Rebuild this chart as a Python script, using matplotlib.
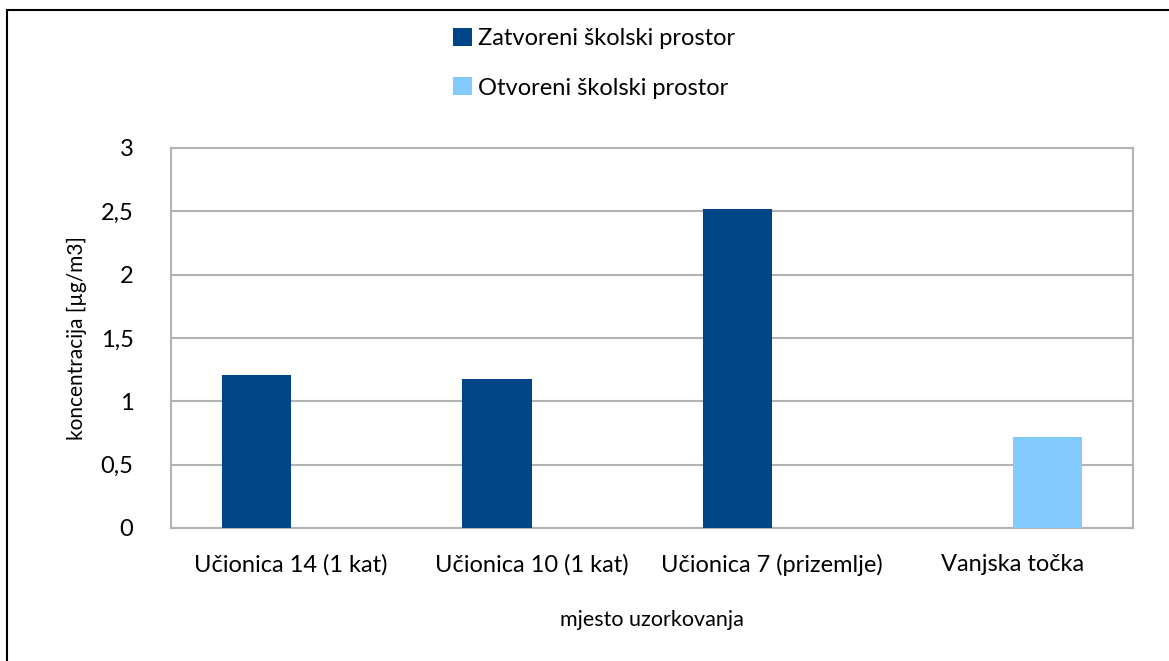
import numpy as np
import matplotlib.pyplot as plt
from matplotlib.patches import Rectangle

plt.rcParams['font.family'] = ['Lato', 'DejaVu Sans']

categories = ["Učionica 14 (1 kat)", "Učionica 10 (1 kat)",
              "Učionica 7 (prizemlje)", "Vanjska točka"]
zatvoreni = [1.21, 1.18, 2.52, np.nan]
otvoreni = [np.nan, np.nan, np.nan, 0.72]
series_names = ["Zatvoreni školski prostor", "Otvoreni školski prostor"]
yticks = [0, 0.5, 1, 1.5, 2, 2.5, 3]
ytick_labels = ["0", "0,5", "1", "1,5", "2", "2,5", "3"]

W, H = 1169, 661
fig = plt.figure(figsize=(W / 100, H / 100), dpi=100)
ax = fig.add_axes([171 / W, 1 - 528 / H, (1133 - 171) / W, (528 - 148) / H])

x = np.arange(len(categories))
width = 0.29
b1 = ax.bar(x - width / 2, zatvoreni, width, color="#004586", label=series_names[0], zorder=3)
b2 = ax.bar(x + width / 2, otvoreni, width, color="#83caff", label=series_names[1], zorder=3)

ax.set_xlim(-0.5, len(categories) - 0.5)
ax.set_ylim(0, 3)
ax.set_yticks(yticks)
ax.set_yticklabels(ytick_labels, fontsize=17)
ax.set_xticks(x)
ax.set_xticklabels(categories, fontsize=17)
ax.tick_params(length=0)
ax.tick_params(axis="x", pad=19)
ax.tick_params(axis="y", pad=27)
ax.yaxis.grid(True, color="#b3b3b3", linewidth=1.5, zorder=0)
for s in ax.spines.values():
    s.set_color("#b3b3b3")
    s.set_linewidth(1.5)

ax.set_ylabel("koncentracija [µg/m3]", fontsize=15, labelpad=10)
ax.set_xlabel("mjesto uzorkovanja", fontsize=15.5, labelpad=24)

fig.legend(handles=[b1, b2], loc="upper center", bbox_to_anchor=(0.508, 0.99),
           ncol=1, frameon=False, fontsize=17, labelspacing=1.2,
           handlelength=0.8, handleheight=0.8, handletextpad=0.25)

fig.patches.append(Rectangle((7 / W, -0.1), 1.2, 1 - 10 / H + 0.1,
                             transform=fig.transFigure, fill=False,
                             edgecolor="black", linewidth=1.5))

fig.savefig("out.png", dpi=100)
